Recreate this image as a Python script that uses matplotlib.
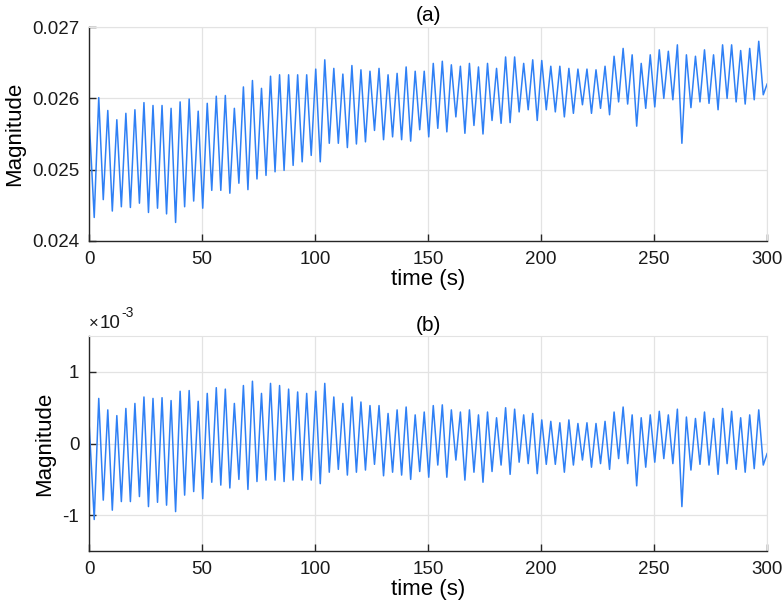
import numpy as np
import matplotlib
matplotlib.use('Agg')
import matplotlib.pyplot as plt
from matplotlib.ticker import FormatStrFormatter, FuncFormatter

plt.rcParams['font.family'] = ['Liberation Sans', 'DejaVu Sans']
plt.rcParams['axes.unicode_minus'] = False

# cycle timing (s)
first_trough = 2.3
first_peak = 4.3
period = 4.0

# panel (a): start/end values, per-cycle peaks and troughs
a_start = 0.02574
a_end = 0.02620
a_peaks = [0.02601, 0.02583, 0.02570, 0.02579, 0.02584, 0.02594, 0.02590, 0.02590, 0.02586,
           0.02595, 0.02599, 0.02582, 0.02593, 0.02603, 0.02604, 0.02586, 0.02616, 0.02625,
           0.02614, 0.02631, 0.02633, 0.02633, 0.02633, 0.02633, 0.02641, 0.02654, 0.02642,
           0.02634, 0.02646, 0.02640, 0.02638, 0.02642, 0.02633, 0.02635, 0.02644, 0.02638,
           0.02638, 0.02649, 0.02652, 0.02647, 0.02645, 0.02649, 0.02644, 0.02649, 0.02642,
           0.02658, 0.02658, 0.02649, 0.02654, 0.02653, 0.02645, 0.02645, 0.02642, 0.02641,
           0.02641, 0.02640, 0.02645, 0.02659, 0.02670, 0.02661, 0.02649, 0.02661, 0.02668,
           0.02666, 0.02675, 0.02661, 0.02659, 0.02668, 0.02661, 0.02675, 0.02675, 0.02667,
           0.02670, 0.02680]
a_troughs = [0.02433, 0.02458, 0.02442, 0.02448, 0.02447, 0.02453, 0.02440, 0.02446, 0.02438,
             0.02426, 0.02448, 0.02456, 0.02446, 0.02471, 0.02471, 0.02467, 0.02481, 0.02472,
             0.02487, 0.02492, 0.02497, 0.02499, 0.02506, 0.02511, 0.02520, 0.02511, 0.02537,
             0.02537, 0.02531, 0.02536, 0.02539, 0.02555, 0.02542, 0.02546, 0.02542, 0.02540,
             0.02556, 0.02546, 0.02558, 0.02553, 0.02574, 0.02551, 0.02562, 0.02550, 0.02569,
             0.02565, 0.02566, 0.02581, 0.02584, 0.02569, 0.02584, 0.02581, 0.02574, 0.02579,
             0.02591, 0.02579, 0.02586, 0.02577, 0.02595, 0.02592, 0.02561, 0.02586, 0.02588,
             0.02600, 0.02598, 0.02537, 0.02587, 0.02595, 0.02593, 0.02584, 0.02600, 0.02595,
             0.02592, 0.02598, 0.02605]

# panel (b): same layout, values in units of 1e-3
b_start = 0.30
b_end = -0.14
b_peaks = [0.63, 0.47, 0.39, 0.49, 0.56, 0.65, 0.63, 0.64, 0.60, 0.73, 0.74, 0.59, 0.70, 0.78,
           0.76, 0.56, 0.81, 0.87,
           0.70, 0.84, 0.81, 0.76, 0.72, 0.70, 0.73, 0.84, 0.65, 0.56, 0.65, 0.58, 0.53, 0.53,
           0.42, 0.47, 0.51, 0.40, 0.44,
           0.53, 0.54, 0.47, 0.44, 0.47, 0.40, 0.44, 0.36, 0.50, 0.48, 0.40, 0.42, 0.33, 0.31,
           0.29, 0.33, 0.28, 0.29, 0.28,
           0.31, 0.44, 0.51, 0.40, 0.36, 0.40, 0.45, 0.40, 0.48, 0.37, 0.35, 0.44, 0.35, 0.49,
           0.45, 0.36, 0.40, 0.47]
b_troughs = [-1.06, -0.79, -0.93, -0.81, -0.81, -0.74, -0.88, -0.82, -0.86, -0.95, -0.72, -0.67,
             -0.77, -0.54, -0.58, -0.62, -0.50, -0.64,
             -0.53, -0.51, -0.51, -0.53, -0.51, -0.51, -0.51, -0.56, -0.40, -0.36, -0.44, -0.40,
             -0.37, -0.29, -0.45, -0.40, -0.44, -0.50, -0.39,
             -0.47, -0.30, -0.47, -0.23, -0.51, -0.40, -0.54, -0.39, -0.30, -0.43, -0.26, -0.28,
             -0.42, -0.29, -0.29, -0.40, -0.30, -0.23, -0.33,
             -0.28, -0.36, -0.21, -0.28, -0.59, -0.33, -0.26, -0.21, -0.28, -0.88, -0.37, -0.29,
             -0.30, -0.43, -0.28, -0.36, -0.40, -0.35, -0.30]


def build_series(start, peaks, troughs, end):
    t_tr = first_trough + period * np.arange(len(troughs))
    t_pk = first_peak + period * np.arange(len(peaks))
    t = [0.0]
    v = [start]
    for k in range(len(troughs)):
        t.append(t_tr[k]); v.append(troughs[k])
        if k < len(peaks):
            t.append(t_pk[k]); v.append(peaks[k])
    t.append(300.0); v.append(end)
    return np.array(t), np.array(v)


line_color = '#2f80f5'
fig = plt.figure(figsize=(7.83, 6.14), dpi=100)
ax1 = fig.add_axes([0.1137, 0.6075, 0.866, 0.3485])
ax2 = fig.add_axes([0.1137, 0.1026, 0.866, 0.350])

ta, va = build_series(a_start, a_peaks, a_troughs, a_end)
tb, vb = build_series(b_start, b_peaks, b_troughs, b_end)
ax1.plot(ta, va, color=line_color, lw=1.1)
ax2.plot(tb, vb * 1e-3, color=line_color, lw=1.1)

for ax in (ax1, ax2):
    ax.set_xlim(0, 300)
    ax.set_xticks(np.arange(0, 301, 50))
    ax.grid(True, color='#e3e3e3', lw=0.9)
    ax.set_axisbelow(True)
    ax.tick_params(direction='in', length=5, width=1, labelsize=13.5, colors='#262626', pad=7)
    ax.tick_params(axis='both', labelcolor='#1a1a1a')
    for s in ('top', 'right'):
        ax.spines[s].set_color('#e3e3e3')
    for s in ('left', 'bottom'):
        ax.spines[s].set_color('#262626')
        ax.spines[s].set_linewidth(1.0)
    ax.set_xlabel('time (s)', fontsize=16, labelpad=1)
    ax.set_ylabel('Magnitude', fontsize=16, labelpad=5)

ax1.set_ylim(0.024, 0.027)
ax1.set_yticks([0.024, 0.025, 0.026, 0.027])
ax1.yaxis.set_major_formatter(FormatStrFormatter('%.3f'))
ax1.set_title('(a)', fontsize=15, pad=4)

ax2.set_ylim(-1.5e-3, 1.5e-3)
ax2.set_yticks([-1e-3, 0, 1e-3])
ax2.yaxis.set_major_formatter(FuncFormatter(lambda v, p: '%g' % round(v * 1e3, 6)))
ax2.text(0.0, 1.025, '×', transform=ax2.transAxes, fontsize=12, color='#1a1a1a',
         ha='left', va='bottom')
ax2.text(0.016, 1.02, '10', transform=ax2.transAxes, fontsize=13.5, color='#1a1a1a',
         ha='left', va='bottom')
ax2.text(0.047, 1.075, '-3', transform=ax2.transAxes, fontsize=10, color='#1a1a1a',
         ha='left', va='bottom')
ax2.set_title('(b)', fontsize=15, pad=4)

fig.savefig('out.png', dpi=100)
